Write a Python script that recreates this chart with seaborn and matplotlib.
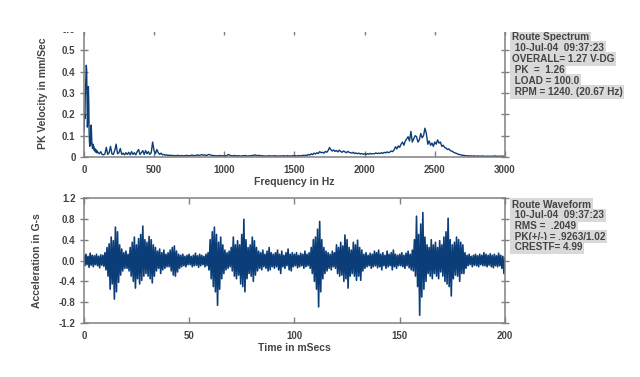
import matplotlib
matplotlib.use('Agg')

import numpy as np
import matplotlib.pyplot as plt
import matplotlib.ticker as mticker
from matplotlib.patches import Rectangle
import seaborn as sns

# 频谱：0-97.5 Hz 每 2.5 Hz 一点，100-3000 Hz 每 10 Hz 一点
spec_low = [0.12, 0.14, 0.20, 0.18, 0.28, 0.33, 0.38, 0.43, 0.41, 0.30,
            0.14, 0.17, 0.30, 0.33, 0.26, 0.12, 0.07, 0.05, 0.09, 0.06,
            0.12, 0.15, 0.11, 0.06, 0.05, 0.04, 0.06, 0.04, 0.05, 0.035,
            0.03, 0.04, 0.03, 0.025, 0.035, 0.025, 0.02, 0.03, 0.02, 0.025]
spec_high = [
    0.022, 0.015, 0.025, 0.012, 0.010, 0.014, 0.045, 0.012, 0.020, 0.050,
    0.015, 0.012, 0.030, 0.060, 0.015, 0.020, 0.040, 0.012, 0.018, 0.010,
    0.020, 0.012, 0.022, 0.010, 0.025, 0.012, 0.020, 0.010, 0.025, 0.035,
    0.012, 0.020, 0.030, 0.012, 0.030, 0.015, 0.025, 0.012, 0.020, 0.070,
    0.030, 0.015, 0.035, 0.020, 0.012, 0.018, 0.010, 0.012, 0.008, 0.010,
    0.007, 0.009, 0.006, 0.008, 0.005, 0.007, 0.006, 0.008, 0.005, 0.006,
    0.007, 0.005, 0.006, 0.008, 0.005, 0.007, 0.006, 0.009, 0.007, 0.006,
    0.008, 0.010, 0.007, 0.009, 0.011, 0.008, 0.010, 0.007, 0.009, 0.012,
    0.010, 0.008, 0.006, 0.007, 0.005, 0.006, 0.005, 0.007, 0.006, 0.005,
    0.006, 0.005, 0.007, 0.012, 0.008, 0.006, 0.005, 0.007, 0.006, 0.005,
    0.006, 0.005, 0.004, 0.006, 0.005, 0.007, 0.005, 0.004, 0.006, 0.005,
    0.008, 0.006, 0.010, 0.007, 0.006, 0.008, 0.005, 0.006, 0.005, 0.004,
    0.005, 0.004, 0.006, 0.005, 0.004, 0.005, 0.006, 0.004, 0.005, 0.004,
    0.005, 0.004, 0.006, 0.005, 0.004, 0.006, 0.005, 0.004, 0.005, 0.006,
    0.005, 0.006, 0.004, 0.007, 0.005, 0.006, 0.008, 0.006, 0.009, 0.007,
    0.012, 0.009, 0.015, 0.011, 0.018, 0.014, 0.020, 0.016, 0.025, 0.020,
    0.022, 0.018, 0.026, 0.022, 0.030, 0.044, 0.034, 0.028, 0.033, 0.026,
    0.030, 0.024, 0.032, 0.026, 0.022, 0.028, 0.024, 0.020, 0.026, 0.022,
    0.020, 0.018, 0.022, 0.016, 0.019, 0.015, 0.018, 0.014, 0.016, 0.013,
    0.015, 0.012, 0.016, 0.013, 0.017, 0.014, 0.016, 0.015, 0.019, 0.016,
    0.018, 0.016, 0.020, 0.017, 0.022, 0.019, 0.024, 0.020, 0.023, 0.028,
    0.025, 0.033, 0.048, 0.038, 0.052, 0.045, 0.060, 0.070, 0.055, 0.075,
    0.085, 0.095, 0.075, 0.120, 0.070, 0.085, 0.100, 0.095, 0.070, 0.080,
    0.110, 0.090, 0.100, 0.135, 0.110, 0.060, 0.075, 0.055, 0.065, 0.050,
    0.070, 0.060, 0.080, 0.065, 0.070, 0.050, 0.055, 0.045, 0.042, 0.035,
    0.038, 0.030, 0.028, 0.024, 0.020, 0.018, 0.015, 0.012, 0.011, 0.009,
    0.008, 0.007, 0.006, 0.005, 0.006, 0.004, 0.005, 0.004, 0.005, 0.004,
    0.004, 0.005, 0.003, 0.004, 0.005, 0.003, 0.004, 0.003, 0.004, 0.003,
    0.004, 0.003, 0.004, 0.005, 0.003, 0.004, 0.003, 0.004, 0.003, 0.004,
    0.003]

# 波形：每 1 ms 的上、下包络 (0-200 ms)
wave_up = [
    0.10, 0.12, 0.08, 0.14, 0.10, 0.09, 0.12, 0.08, 0.11, 0.10,
    0.15, 0.25, 0.32, 0.45, 0.38, 0.64, 0.55, 0.30, 0.22, 0.15,
    0.18, 0.12, 0.25, 0.35, 0.45, 0.30, 0.42, 0.50, 0.66, 0.40,
    0.35, 0.46, 0.40, 0.30, 0.25, 0.18, 0.22, 0.15, 0.20, 0.12,
    0.15, 0.20, 0.25, 0.28, 0.18, 0.12, 0.10, 0.12, 0.08, 0.10,
    0.12, 0.08, 0.10, 0.14, 0.09, 0.12, 0.10, 0.08, 0.12, 0.15,
    0.40, 0.55, 0.64, 0.50, 0.35, 0.45, 0.30, 0.20, 0.15, 0.18,
    0.25, 0.45, 0.30, 0.38, 0.30, 0.50, 0.79, 0.40, 0.25, 0.30,
    0.45, 0.38, 0.25, 0.18, 0.15, 0.20, 0.12, 0.18, 0.25, 0.15,
    0.12, 0.15, 0.20, 0.12, 0.18, 0.10, 0.15, 0.22, 0.12, 0.15,
    0.12, 0.15, 0.10, 0.14, 0.12, 0.18, 0.12, 0.15, 0.25, 0.40,
    0.45, 0.60, 0.75, 0.40, 0.25, 0.18, 0.15, 0.12, 0.18, 0.15,
    0.30, 0.25, 0.35, 0.28, 0.49, 0.40, 0.25, 0.20, 0.35, 0.30,
    0.39, 0.25, 0.20, 0.12, 0.15, 0.10, 0.14, 0.12, 0.18, 0.15,
    0.20, 0.12, 0.15, 0.10, 0.18, 0.12, 0.15, 0.20, 0.12, 0.10,
    0.12, 0.15, 0.10, 0.14, 0.18, 0.12, 0.20, 0.40, 0.85, 0.50,
    0.70, 0.92, 0.45, 0.30, 0.25, 0.40, 0.30, 0.35, 0.25, 0.38,
    0.30, 0.45, 0.55, 0.81, 0.40, 0.30, 0.35, 0.45, 0.40, 0.35,
    0.30, 0.15, 0.10, 0.12, 0.08, 0.10, 0.12, 0.09, 0.12, 0.10,
    0.15, 0.12, 0.10, 0.13, 0.10, 0.12, 0.09, 0.14, 0.10, 0.08, 0.05]
wave_lo = [
    -0.10, -0.08, -0.13, -0.09, -0.12, -0.08, -0.10, -0.14, -0.09, -0.11,
    -0.18, -0.30, -0.55, -0.45, -0.74, -0.60, -0.42, -0.28, -0.20, -0.15,
    -0.15, -0.20, -0.30, -0.40, -0.53, -0.35, -0.45, -0.38, -0.30, -0.25,
    -0.30, -0.35, -0.43, -0.30, -0.20, -0.15, -0.25, -0.18, -0.15, -0.12,
    -0.12, -0.20, -0.28, -0.30, -0.22, -0.15, -0.12, -0.10, -0.12, -0.08,
    -0.08, -0.12, -0.10, -0.09, -0.13, -0.10, -0.08, -0.12, -0.10, -0.18,
    -0.35, -0.50, -0.60, -0.86, -0.55, -0.35, -0.25, -0.18, -0.15, -0.12,
    -0.20, -0.30, -0.35, -0.28, -0.45, -0.50, -0.60, -0.35, -0.25, -0.30,
    -0.40, -0.28, -0.20, -0.15, -0.18, -0.12, -0.15, -0.20, -0.18, -0.12,
    -0.15, -0.12, -0.18, -0.25, -0.12, -0.15, -0.10, -0.18, -0.20, -0.12,
    -0.10, -0.14, -0.12, -0.10, -0.15, -0.12, -0.10, -0.15, -0.25, -0.40,
    -0.55, -0.89, -0.60, -0.35, -0.25, -0.20, -0.15, -0.18, -0.12, -0.15,
    -0.25, -0.30, -0.28, -0.40, -0.35, -0.53, -0.30, -0.25, -0.30, -0.38,
    -0.30, -0.38, -0.20, -0.15, -0.12, -0.10, -0.15, -0.12, -0.10, -0.14,
    -0.12, -0.18, -0.10, -0.15, -0.12, -0.10, -0.18, -0.12, -0.15, -0.10,
    -0.10, -0.12, -0.15, -0.10, -0.14, -0.18, -0.20, -0.30, -0.50, -1.05,
    -0.70, -0.55, -0.40, -0.25, -0.30, -0.35, -0.25, -0.30, -0.35, -0.22,
    -0.30, -0.40, -0.45, -0.50, -0.68, -0.35, -0.28, -0.30, -0.40, -0.25,
    -0.25, -0.15, -0.10, -0.08, -0.12, -0.09, -0.10, -0.12, -0.08, -0.10,
    -0.10, -0.12, -0.09, -0.12, -0.14, -0.10, -0.12, -0.10, -0.15, -0.25, -0.20]

spec_yticks = [0, 0.1, 0.2, 0.3, 0.4, 0.5, 0.6]
spec_ylabels = ['0', '0.1', '0.2', '0.3', '0.4', '0.5', '0.6']
freq_ticks = [0, 500, 1000, 1500, 2000, 2500, 3000]
wave_yticks = [1.2, 0.8, 0.4, 0.0, -0.4, -0.8, -1.2]
wave_ylabels = ['1.2', '0.8', '0.4', '0.0', '-0.4', '-0.8', '-1.2']
time_ticks = [0, 50, 100, 150, 200]

spec_info = ['Route Spectrum', ' 10-Jul-04  09:37:23', 'OVERALL= 1.27 V-DG',
             ' PK  =  1.26', ' LOAD = 100.0', ' RPM = 1240. (20.67 Hz)']
wave_info = ['Route Waveform', ' 10-Jul-04  09:37:23', ' RMS =  .2049',
             ' PK(+/-) = .9263/1.02', ' CRESTF= 4.99']

LINE = '#0b3d78'
SPINE = '#808080'
TXT = '#444444'

sns.set_style('white')
plt.rcParams['font.family'] = ['Liberation Sans', 'DejaVu Sans']

fig = plt.figure(figsize=(6.4, 3.77), dpi=100)
ax1 = fig.add_axes([0.131, 0.5836, 0.658, 0.3395])
ax2 = fig.add_axes([0.131, 0.1432, 0.658, 0.3316])

freq = np.concatenate([np.arange(len(spec_low)) * 2.5,
                       100 + np.arange(len(spec_high)) * 10.0])
spec = np.array(spec_low + spec_high)
sns.lineplot(x=freq, y=spec, ax=ax1, color=LINE, linewidth=1.0,
             estimator=None, sort=False)

t = np.arange(len(wave_up), dtype=float)
wx = np.column_stack([t, t + 0.5]).ravel()
wy = np.column_stack([wave_up, wave_lo]).ravel()
sns.lineplot(x=wx, y=wy, ax=ax2, color=LINE, linewidth=1.2,
             estimator=None, sort=False)

def style_axes(ax):
    for s in ax.spines.values():
        s.set_color(SPINE)
        s.set_linewidth(1.1)
    ax.tick_params(axis='y', which='both', direction='inout', length=6,
                   width=1, color=SPINE, left=True, right=True,
                   labelsize=7, labelcolor=TXT, pad=3)
    ax.tick_params(axis='x', which='both', direction='in', length=4,
                   width=1, color=SPINE, bottom=True, top=True,
                   labelsize=7, labelcolor=TXT, pad=6)
    for lab in ax.get_xticklabels() + ax.get_yticklabels():
        lab.set_fontweight('bold')

ax1.set_xlim(0, 3000)
ax1.set_ylim(0, 0.6)
ax1.set_xticks(freq_ticks)
ax1.set_yticks(spec_yticks)
ax1.yaxis.set_major_formatter(mticker.FixedFormatter(spec_ylabels))
ax1.set_xlabel('Frequency in Hz', fontsize=7.5, fontweight='bold', color=TXT, labelpad=1)
ax1.set_ylabel('PK Velocity in mm/Sec', fontsize=7.5, fontweight='bold', color=TXT, labelpad=10)
style_axes(ax1)

ax2.set_xlim(0, 200)
ax2.set_ylim(-1.2, 1.2)
ax2.set_xticks(time_ticks)
ax2.set_yticks(wave_yticks)
ax2.yaxis.set_major_formatter(mticker.FixedFormatter(wave_ylabels))
ax2.set_xlabel('Time in mSecs', fontsize=7.5, fontweight='bold', color=TXT, labelpad=1)
ax2.set_ylabel('Acceleration in G-s', fontsize=7.5, fontweight='bold', color=TXT, labelpad=12)
style_axes(ax2)

def info_box(lines, y0, step):
    for i, s in enumerate(lines):
        fig.text(512 / 640, 1 - (y0 + i * step) / 377, s, fontsize=7.2,
                 fontweight='bold', color=TXT, va='center', ha='left',
                 bbox=dict(facecolor='#d9d9d9', edgecolor='none', pad=1.2))

info_box(spec_info, 37, 11)
info_box(wave_info, 205, 10.5)

# 原图顶部被裁掉一截
fig.add_artist(Rectangle((0, 1 - 32 / 377), 1, 32 / 377, transform=fig.transFigure,
                         facecolor='white', edgecolor='none', zorder=10))

fig.savefig('out.png', dpi=100)
